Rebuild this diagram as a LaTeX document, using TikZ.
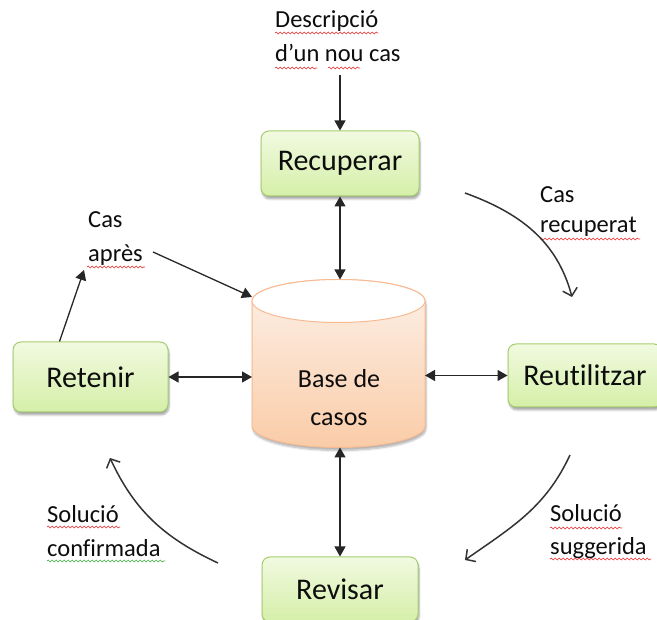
\documentclass[tikz,border=0pt]{standalone}
\usepackage{fontspec}
\setmainfont[Ligatures={NoCommon}]{Carlito}
\usetikzlibrary{arrows.meta,shadows.blur,decorations.pathmorphing,calc}
\definecolor{boxtop}{RGB}{241,250,224}
\definecolor{boxbot}{RGB}{213,239,168}
\definecolor{boxline}{RGB}{165,205,110}
\definecolor{cyltop}{RGB}{253,241,232}
\definecolor{cylbot}{RGB}{250,204,168}
\definecolor{cylline}{RGB}{247,186,145}
\definecolor{spellred}{RGB}{230,40,40}
\definecolor{spellgreen}{RGB}{60,170,60}
\begin{document}
\begin{tikzpicture}[x=1pt,y=1pt,
  stepbox/.style={draw=boxline, line width=1pt, rounded corners=8pt,
    top color=boxtop, bottom color=boxbot, inner sep=0pt,
    font=\fontsize{30}{36}\selectfont, text=black!95,
    blur shadow={shadow xshift=1pt,shadow yshift=-3pt,shadow blur steps=6,shadow opacity=35}},
  lbl/.style={anchor=base west, inner sep=0pt, font=\fontsize{24.5}{29}\selectfont, text=black!95},
  baselbl/.style={anchor=base, inner sep=0pt, font=\fontsize{26}{31}\selectfont, text=black!95},
  link/.style={line width=1.3pt, draw=black!85,
    {Triangle[length=10pt,width=11pt]}-{Triangle[length=10pt,width=11pt]}},
  feed/.style={line width=1.3pt, draw=black!85, -{Triangle[length=10pt,width=11pt]}},
  flow/.style={line width=1.5pt, draw=black!80,
    -{Straight Barb[length=7pt,width=15pt,line width=1.5pt]}},
  squig/.style={decorate, decoration={snake, amplitude=0.9pt, segment length=4pt}, line width=0.6pt}
]
\useasboundingbox (0,0) rectangle (657,620);
\clip (0,0) rectangle (657,620);

% case base (cylinder)
\path[top color=cyltop, bottom color=cylbot, draw=cylline, line width=1pt,
  blur shadow={shadow xshift=1pt,shadow yshift=-3pt,shadow blur steps=6,shadow opacity=30}]
  (252,319) -- (252,194) arc[start angle=180, end angle=360, x radius=86.5, y radius=21.5]
  -- (425,319) arc[start angle=0, end angle=180, x radius=86.5, y radius=21.5] -- cycle;
\draw[fill=white, draw=cylline, line width=1pt] (338.5,319) ellipse[x radius=86.5, y radius=21.5];
\node[baselbl] (base1) at (339,232) {Base de};
\node[baselbl] (base2) at (339,194) {casos};

\coordinate (cylTop) at (340,340.5);
\coordinate (cylS) at (340,172.5);
\coordinate (cylW) at (252,0);
\coordinate (cylE) at (425,0);
\coordinate (cylNW) at (252,323);

% process steps
\node[stepbox, minimum width=158, minimum height=65] (rec) at (340,456.5) {Recuperar};
\node[stepbox, minimum width=155, minimum height=70] (ret) at (90.5,243) {Retenir};
\node[stepbox, minimum width=154, minimum height=63] (reu) at (585,244.5) {Reutilitzar};
\node[stepbox, minimum width=156, minimum height=65] (rev) at (340,30.5) {Revisar};

% labels
\node[lbl] (desc1) at (275,592) {Descripció};
\node[lbl] (desc2) at (275,558) {d’un nou cas};
\node[lbl] (recu1) at (540,417) {Cas};
\node[lbl] (recu2) at (540,387) {recuperat};
\node[lbl] (apres1) at (88,392) {Cas};
\node[lbl] (apres2) at (88,358) {après};
\node[lbl] (conf1) at (47,97) {Solució};
\node[lbl] (conf2) at (47,63) {confirmada};
\node[lbl] (sugg1) at (550,98) {Solució};
\node[lbl] (sugg2) at (550,65) {suggerida};

% spelling underlines
\draw[squig, spellred] (275,587) -- (378,587);
\draw[squig, spellred] (275,552) -- (317,552);
\draw[squig, spellred] (328,552) -- (360,552);
\draw[squig, spellred] (540,381) -- (640,381);
\draw[squig, spellred] (87,353) -- (145,353);
\draw[squig, spellred] (47,93) -- (120,93);
\draw[squig, spellgreen] (47,59) -- (165,59);
\draw[squig, spellred] (550,92) -- (622,92);
\draw[squig, spellred] (550,61) -- (651,61);

% straight connectors
\coordinate (descEnd) at (340,545);
\draw[feed] (descEnd) -- (rec.north);
\draw[link] (rec.south) -- (rec.south |- cylTop);
\draw[link] (ret.east) -- (ret.east -| cylW);
\draw[link] (reu.west -| cylE) -- (reu.west);
\draw[link] (cylS) -- (rev.north);

\coordinate (apresTip) at (84,350);
\coordinate (apresTail) at (153,368);
\draw[feed] ([xshift=-31pt]ret.north) -- (apresTip);
\draw[feed] (apresTail) -- (cylNW);

% cycle arrows
\coordinate (recTail) at (465,427);
\coordinate (recHead) at (572,323);
\coordinate (suggTail) at (570,165);
\coordinate (suggHead) at (465,60);
\coordinate (confTail) at (218,57);
\coordinate (confHead) at (110,162);
\draw[flow] (recTail) to[out=-20,in=105] (recHead);
\draw[flow] (suggTail) to[out=-115,in=35] (suggHead);
\draw[flow] (confTail) to[out=155,in=-65] (confHead);
\end{tikzpicture}
\end{document}
